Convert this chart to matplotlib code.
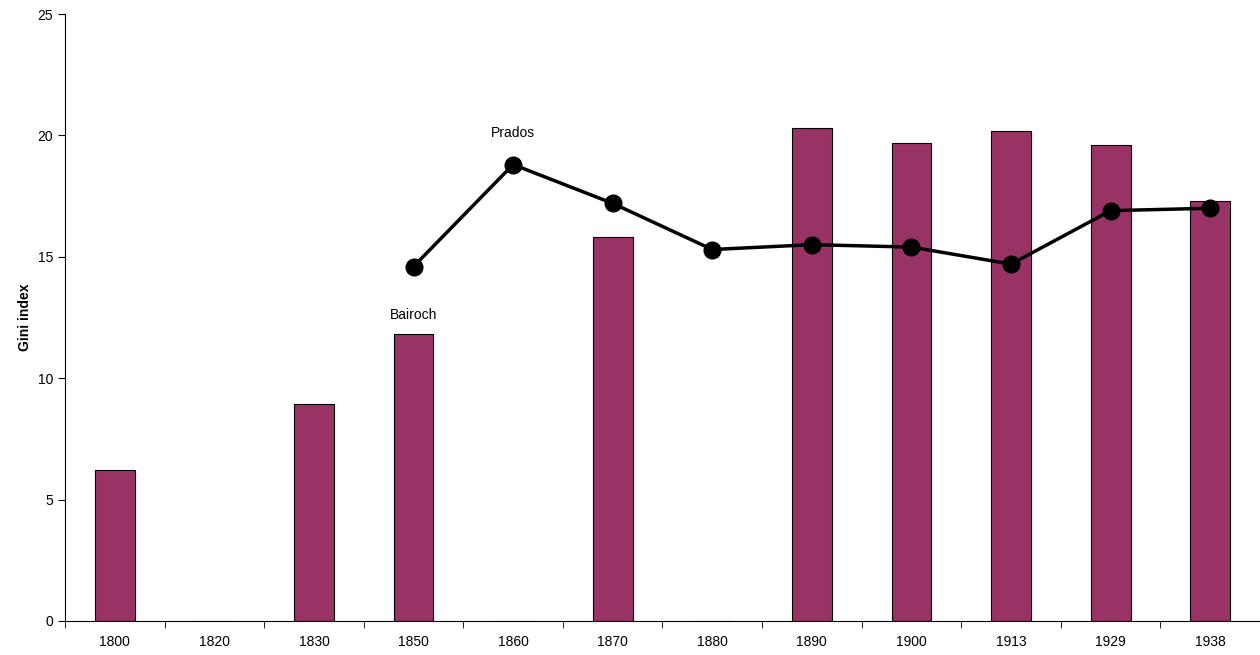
import numpy as np
import matplotlib.pyplot as plt

plt.rcParams['font.family'] = ['Liberation Sans', 'DejaVu Sans']

years = ["1800", "1820", "1830", "1850", "1860", "1870", "1880", "1890", "1900", "1913", "1929", "1938"]
bairoch = [6.2, np.nan, 8.95, 11.8, np.nan, 15.8, np.nan, 20.3, 19.7, 20.2, 19.6, 17.3]
prados = [np.nan, np.nan, np.nan, 14.6, 18.8, 17.2, 15.3, 15.5, 15.4, 14.7, 16.9, 17.0]

fig = plt.figure(figsize=(12.6, 6.55), dpi=100)
ax = fig.add_axes([65 / 1260, 34 / 655, 1195 / 1260, 607 / 655])

x = np.arange(len(years))
ax.bar(x, np.nan_to_num(bairoch), width=0.4, color="#993366", edgecolor="black", linewidth=0.8, zorder=2)
ax.plot(x, prados, color="black", lw=2.5, marker="o", markersize=12, zorder=3)

ax.text(3, 12.3, "Bairoch", ha="center", va="bottom", fontsize=10)
ax.text(4, 19.8, "Prados", ha="center", va="bottom", fontsize=10)

ax.set_xlim(-0.5, len(years) - 0.5)
ax.set_ylim(0, 25)
ax.set_yticks([0, 5, 10, 15, 20, 25])
ax.set_xticks(x)
ax.set_xticklabels(years, fontsize=10)
ax.set_xticks(np.arange(-0.5, len(years)), minor=True)
ax.tick_params(axis="x", which="major", length=0, pad=10)
ax.tick_params(axis="x", which="minor", length=5, direction="out")
ax.tick_params(axis="y", labelsize=10, length=5)
ax.set_ylabel("Gini index", fontsize=10, fontweight="bold")
ax.spines["top"].set_visible(False)
ax.spines["right"].set_visible(False)

fig.savefig("out.png", dpi=100)
